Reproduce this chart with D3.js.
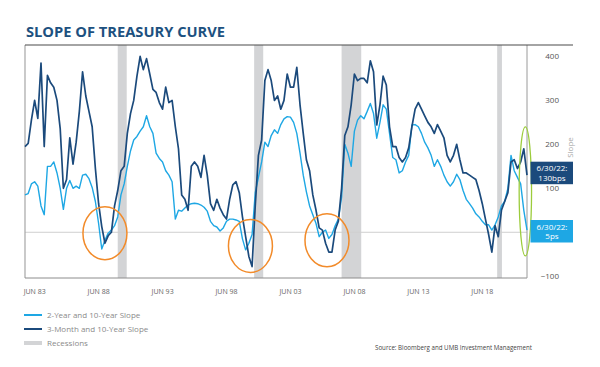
<!DOCTYPE html>
<html>
<head>
<meta charset="utf-8">
<script src="https://cdn.jsdelivr.net/npm/d3@7"></script>
<style>
  body { margin: 0; background: #fff; }
  text { font-family: "Open Sans", "DejaVu Sans", sans-serif; }
</style>
</head>
<body>
<div id="chart"></div>
<script>
// quarterly readings, Apr 1983 .. Jul 2022 (basis points)
const slope2y10y = [
  85, 88, 110, 115, 105, 60, 40, 150, 150, 160,
  135, 100, 52, 100, 118, 100, 105, 100, 130, 132,
  122, 102, 70, 20, -38, -18, -2, 5, 15, 35,
  85, 110, 150, 185, 210, 218, 230, 240, 265, 240,
  225, 180, 168, 160, 140, 130, 115, 30, 50, 48,
  55, 62, 65, 66, 65, 62, 57, 48, 25, 15,
  12, 3, 10, 25, 30, 30, 28, 25, -15, -40,
  -25, -5, 90, 125, 160, 205, 195, 220, 233, 225,
  245, 258, 263, 262, 250, 225, 180, 130, 92, 60,
  40, 20, -10, 0, 5, -14, -5, 15, 30, 80,
  200, 180, 150, 230, 255, 265, 258, 275, 293, 270,
  214, 250, 290, 280, 225, 170, 165, 135, 140, 160,
  175, 244, 245, 240, 225, 205, 192, 175, 150, 165,
  150, 130, 115, 105, 115, 132, 120, 95, 75, 65,
  55, 42, 35, 25, 17, 17, 5, 17, 35, 60,
  70, 100, 175, 140, 125, 110, 50, 5
];
const slope3m10y = [
  195, 202, 255, 300, 259, 385, 195, 357, 340, 330,
  300, 235, 100, 120, 215, 155, 205, 275, 365, 310,
  275, 240, 145, 65, 13, -25, -8, 0, 60, 95,
  140, 150, 225, 270, 300, 355, 400, 370, 395, 360,
  325, 318, 295, 280, 330, 295, 300, 240, 190, 85,
  75, 50, 150, 160, 150, 125, 175, 130, 65, 50,
  75, 55, 40, 30, 75, 108, 115, 90, 35, -10,
  -55, -78, 60, 175, 210, 345, 370, 345, 300, 310,
  280, 300, 360, 330, 330, 375, 290, 225, 165, 140,
  85, 50, 10, 5, -25, -45, -45, 5, 25, 100,
  220, 240, 290, 360, 345, 350, 350, 340, 390, 365,
  244, 290, 355, 335, 240, 195, 195, 170, 160, 170,
  192, 240, 280, 295, 280, 265, 250, 240, 225, 245,
  230, 215, 175, 160, 175, 200, 165, 135, 135, 130,
  125, 120, 95, 65, 30, -5, -45, 15, -10, 50,
  70, 90, 160, 165, 145, 160, 190, 130
];
const quarterDates = slope2y10y.map((d, i) => new Date(1983, 3 + 3 * i, 1));

const tickYears = [1983, 1988, 1993, 1998, 2003, 2008, 2013, 2018];
const tickLabels = ["JUN 83", "JUN 88", "JUN 93", "JUN 98", "JUN 03", "JUN 08", "JUN 13", "JUN 18"];
// the 0 label sits under the 2y tag in the original, so it is left out
const yTicks = [400, 300, 200, 100, -100];

const recessions = [
  [new Date(1990, 6, 1), new Date(1991, 2, 15)],
  [new Date(2001, 2, 1), new Date(2001, 10, 15)],
  [new Date(2008, 0, 1), new Date(2009, 6, 15)],
  [new Date(2020, 2, 1), new Date(2020, 6, 15)]
];

// circled inversions: [date, value]
const inversionMarks = [
  [new Date(1989, 6, 1), -2],
  [new Date(2000, 10, 15), -31],
  [new Date(2006, 10, 10), -18]
];

const navy = "#1b4a7c";
const sky = "#1ea7e4";

const svg = d3.select("#chart").append("svg")
  .attr("width", 600)
  .attr("height", 367);

const plot = { left: 25, right: 527, top: 45, bottom: 278 };

const x = d3.scaleTime()
  .domain([new Date(1983, 3, 1), new Date(2022, 6, 1)])
  .range([plot.left, plot.right]);

const y = d3.scaleLinear()
  .domain([-104, 426])
  .range([plot.bottom, plot.top]);

// title
svg.append("text")
  .attr("x", 26)
  .attr("y", 36.5)
  .attr("textLength", 199)
  .attr("lengthAdjust", "spacingAndGlyphs")
  .style("font-size", "14px")
  .style("font-weight", "bold")
  .style("fill", "#1d5180")
  .text("SLOPE OF TREASURY CURVE");

// recession bands
svg.selectAll(".recession")
  .data(recessions)
  .enter()
  .append("rect")
  .attr("class", "recession")
  .attr("x", d => x(d[0]))
  .attr("y", plot.top)
  .attr("width", d => x(d[1]) - x(d[0]))
  .attr("height", plot.bottom - plot.top)
  .style("fill", "#d3d4d6");

// zero line
svg.append("line")
  .attr("x1", plot.left)
  .attr("x2", plot.right)
  .attr("y1", y(0))
  .attr("y2", y(0))
  .style("stroke", "#cfcfcf")
  .style("stroke-width", 1);

// frame
svg.append("line")
  .attr("x1", plot.left).attr("x2", plot.left)
  .attr("y1", plot.top).attr("y2", plot.bottom)
  .style("stroke", "#a6a6a6").style("stroke-width", 1.2);
svg.append("line")
  .attr("x1", plot.left).attr("x2", plot.right)
  .attr("y1", plot.bottom).attr("y2", plot.bottom)
  .style("stroke", "#8c8c8c").style("stroke-width", 1);
svg.append("line")
  .attr("x1", plot.right).attr("x2", plot.right)
  .attr("y1", plot.top).attr("y2", plot.bottom)
  .style("stroke", "#9a9a9a").style("stroke-width", 1);
svg.append("line")
  .attr("x1", plot.left).attr("x2", 573)
  .attr("y1", plot.top).attr("y2", plot.top)
  .style("stroke", "#4a4a4a").style("stroke-width", 1.2);

const line = d3.line()
  .x((d, i) => x(quarterDates[i]))
  .y(d => y(d));

svg.append("path")
  .datum(slope2y10y)
  .attr("d", line)
  .style("fill", "none")
  .style("stroke", sky)
  .style("stroke-width", 1.4)
  .style("stroke-linejoin", "round");

svg.append("path")
  .datum(slope3m10y)
  .attr("d", line)
  .style("fill", "none")
  .style("stroke", navy)
  .style("stroke-width", 1.7)
  .style("stroke-linejoin", "round");

// orange circles on the inversions
svg.selectAll(".inversion")
  .data(inversionMarks)
  .enter()
  .append("ellipse")
  .attr("class", "inversion")
  .attr("cx", d => x(d[0]))
  .attr("cy", d => y(d[1]))
  .attr("rx", 22)
  .attr("ry", 26.5)
  .style("fill", "none")
  .style("stroke", "#f28b2a")
  .style("stroke-width", 1.5);

// green ellipse on the latest readings
svg.append("ellipse")
  .attr("cx", x(new Date(2022, 4, 15)))
  .attr("cy", y(93))
  .attr("rx", 6.2)
  .attr("ry", 64.5)
  .style("fill", "none")
  .style("stroke", "#9ccc3c")
  .style("stroke-width", 1.3);

// right axis
const yAxis = svg.append("g")
  .attr("transform", `translate(559,0)`)
  .call(d3.axisRight(y).tickValues(yTicks).tickSize(0).tickPadding(0));
yAxis.select(".domain").remove();
yAxis.selectAll("text")
  .attr("x", 0)
  .style("text-anchor", "end")
  .style("font-family", "'Open Sans', sans-serif")
  .style("font-size", "8px")
  .style("fill", "#555");

svg.append("text")
  .attr("transform", "translate(573,147.5) rotate(-90)")
  .style("text-anchor", "middle")
  .style("font-size", "8px")
  .style("fill", "#a9a9a9")
  .text("Slope");

// bottom axis
const xAxis = svg.append("g")
  .attr("transform", `translate(0,292)`)
  .call(d3.axisBottom(x)
    .tickValues(tickYears.map(yr => new Date(yr, 5, 1)))
    .tickSize(0)
    .tickFormat((d, i) => tickLabels[i]));
xAxis.select(".domain").remove();
xAxis.selectAll("text")
  .attr("y", 0)
  .attr("dy", "0.35em")
  .attr("dx", -4)
  .style("text-anchor", "start")
  .style("font-family", "'Open Sans', sans-serif")
  .style("font-size", "7px")
  .style("fill", "#666");

// end-of-series tags
const tags = [
  { fill: navy, lines: ["6/30/22:", "130bps"], top: 161.7 },
  { fill: sky, lines: ["6/30/22:", "5ps"], top: 220 }
];
tags.forEach(t => {
  const g = svg.append("g");
  g.append("rect")
    .attr("x", 530.5)
    .attr("y", t.top)
    .attr("width", 42.5)
    .attr("height", 22.5)
    .style("fill", t.fill);
  g.selectAll("text")
    .data(t.lines)
    .enter()
    .append("text")
    .attr("x", 552)
    .attr("y", (d, i) => t.top + 9.5 + i * 9.5)
    .style("text-anchor", "middle")
    .style("font-size", "8px")
    .style("fill", "#fff")
    .text(d => d);
});

// legend
const legendItems = [
  { label: "2-Year and 10-Year Slope", color: sky, w: 2 },
  { label: "3-Month and 10-Year Slope", color: navy, w: 2 },
  { label: "Recessions", color: "#d3d4d6", w: 4 }
];
const legend = svg.selectAll(".legend")
  .data(legendItems)
  .enter()
  .append("g")
  .attr("class", "legend")
  .attr("transform", (d, i) => `translate(24,${315 + i * 14})`);
legend.append("line")
  .attr("x1", 0).attr("x2", 18)
  .style("stroke", d => d.color)
  .style("stroke-width", d => d.w);
legend.append("text")
  .attr("x", 23)
  .attr("dy", "0.35em")
  .style("font-size", "8px")
  .style("fill", "#8a8a8a")
  .text(d => d.label);

svg.append("text")
  .attr("x", 375)
  .attr("y", 349.5)
  .attr("textLength", 157)
  .attr("lengthAdjust", "spacingAndGlyphs")
  .style("font-size", "6.5px")
  .style("fill", "#444")
  .text("Source: Bloomberg and UMB Investment Management");
</script>
</body>
</html>
